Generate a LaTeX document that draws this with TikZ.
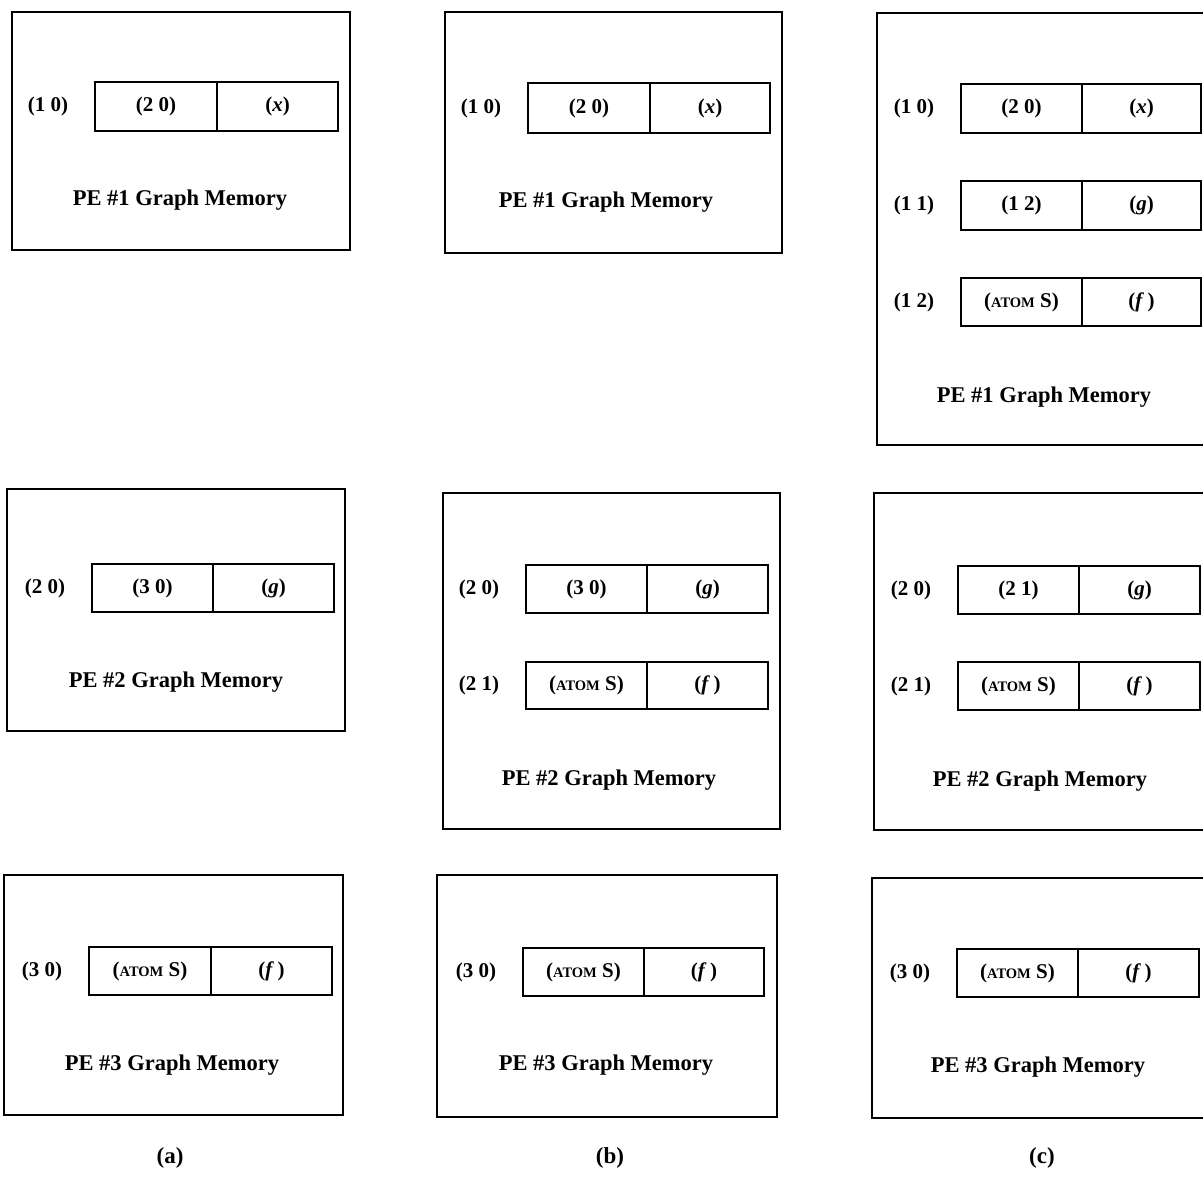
\documentclass[tikz,border=0pt]{standalone}
\usepackage{fontspec}
\setmainfont{Liberation Serif}
\begin{document}
\begin{tikzpicture}[x=1pt,y=-1pt,
  cell/.style={draw, line width=1.3pt, inner sep=0pt, outer sep=0pt, anchor=north west,
    font=\fontsize{21}{24}\selectfont\bfseries},
  panel/.style={draw, line width=1.4pt, inner sep=0pt, outer sep=0pt, anchor=north west},
  lbl/.style={inner sep=0pt, font=\fontsize{21}{24}\selectfont\bfseries},
  ttl/.style={inner sep=0pt, font=\fontsize{22.5}{26}\selectfont\bfseries},
  captxt/.style={inner sep=0pt, font=\fontsize{23}{26}\selectfont\bfseries}]
\newcommand\memrow[9]{%
  \node[cell, minimum width={#4-#3}, minimum height={#7-#6}] (#1l) at (#3,#6) {#8};
  \node[cell, minimum width={#5-#4}, minimum height={#7-#6}] (#1r) at (#4,#6) {#9};
  \node[lbl] (#1n) at ([xshift=-47pt]#1l.west) {#2};}
\newcommand\atomS{(\fontsize{14.5}{16}\selectfont ATOM\fontsize{21}{24}\selectfont{} S)}
\newcommand\vx{(\textit{x})}
\newcommand\vg{(\textit{g})}
\newcommand\vf{(\textit{f}\,)}
\useasboundingbox (0,0) rectangle (1203,1178);
\clip (0,0) rectangle (1203,1178);
% ---------------- column (a)
\node[panel, minimum width=338, minimum height=238] (a1) at (12,12) {};
\memrow{a1r1}{(1 0)}{95}{217}{338}{82}{131}{(2 0)}{\vx}
\node[ttl] (a1t) at (180,200) {PE \#1 Graph Memory};
\node[panel, minimum width=338, minimum height=242] (a2) at (7,489) {};
\memrow{a2r1}{(2 0)}{92}{213}{334}{564}{612}{(3 0)}{\vg}
\node[ttl] (a2t) at (176,682) {PE \#2 Graph Memory};
\node[panel, minimum width=339, minimum height=240] (a3) at (4,875) {};
\memrow{a3r1}{(3 0)}{89}{211}{332}{947}{995}{\atomS}{\vf}
\node[ttl] (a3t) at (172,1065) {PE \#3 Graph Memory};
\node[captxt] (capa) at (170,1158) {(a)};
% ---------------- column (b)
\node[panel, minimum width=337, minimum height=241] (b1) at (445,12) {};
\memrow{b1r1}{(1 0)}{528}{650}{770}{83}{133}{(2 0)}{\vx}
\node[ttl] (b1t) at (606,202) {PE \#1 Graph Memory};
\node[panel, minimum width=337, minimum height=336] (b2) at (443,493) {};
\memrow{b2r1}{(2 0)}{526}{647}{768}{565}{613}{(3 0)}{\vg}
\memrow{b2r2}{(2 1)}{526}{647}{768}{662}{709}{\atomS}{\vf}
\node[ttl] (b2t) at (609,780) {PE \#2 Graph Memory};
\node[panel, minimum width=340, minimum height=242] (b3) at (437,875) {};
\memrow{b3r1}{(3 0)}{523}{644}{764}{948}{996}{\atomS}{\vf}
\node[ttl] (b3t) at (606,1065) {PE \#3 Graph Memory};
\node[captxt] (capb) at (610,1158) {(b)};
% ---------------- column (c)
\node[panel, minimum width=340, minimum height=432] (c1) at (877,13) {};
\memrow{c1r1}{(1 0)}{961}{1082}{1201}{84}{133}{(2 0)}{\vx}
\memrow{c1r2}{(1 1)}{961}{1082}{1201}{181}{230}{(1 2)}{\vg}
\memrow{c1r3}{(1 2)}{961}{1082}{1201}{278}{326}{\atomS}{\vf}
\node[ttl] (c1t) at (1044,397) {PE \#1 Graph Memory};
\node[panel, minimum width=340, minimum height=337] (c2) at (874,493) {};
\memrow{c2r1}{(2 0)}{958}{1079}{1200}{566}{614}{(2 1)}{\vg}
\memrow{c2r2}{(2 1)}{958}{1079}{1200}{662}{710}{\atomS}{\vf}
\node[ttl] (c2t) at (1040,781) {PE \#2 Graph Memory};
\node[panel, minimum width=340, minimum height=240] (c3) at (872,878) {};
\memrow{c3r1}{(3 0)}{957}{1078}{1199}{949}{997}{\atomS}{\vf}
\node[ttl] (c3t) at (1038,1067) {PE \#3 Graph Memory};
\node[captxt] (capc) at (1042,1158) {(c)};
\end{tikzpicture}
\end{document}
